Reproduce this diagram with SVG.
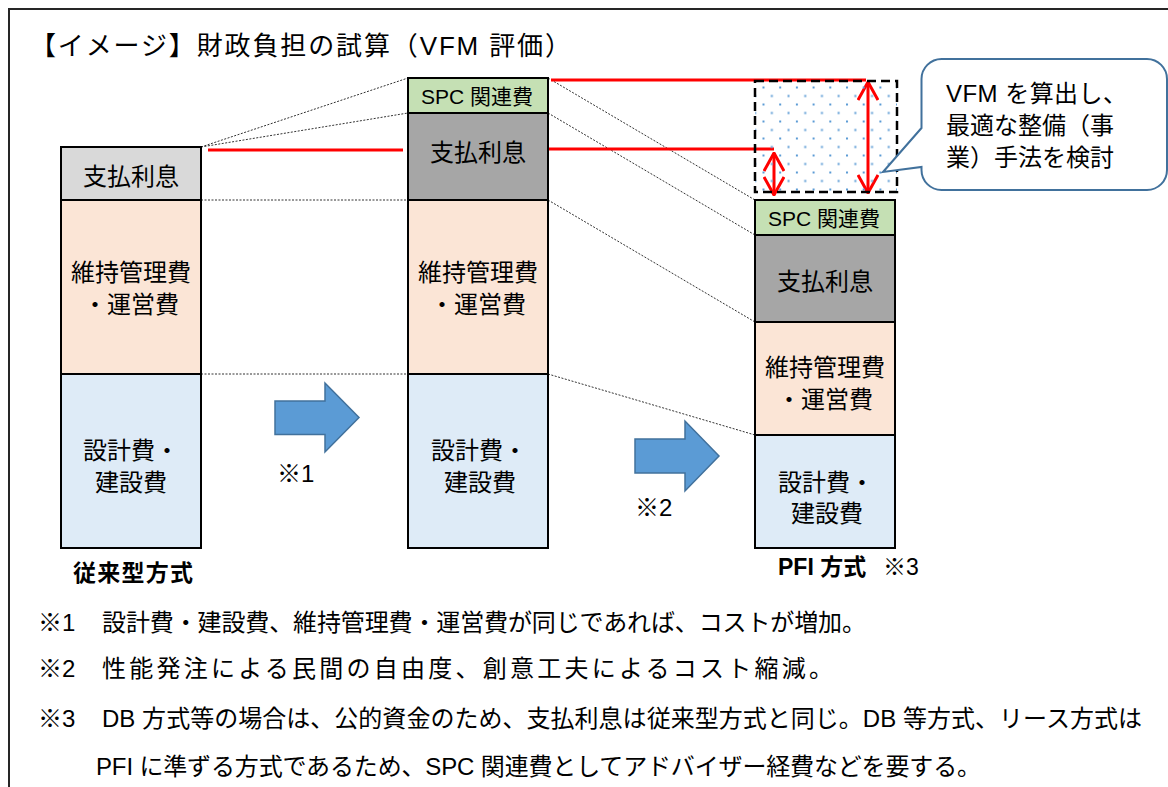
<svg xmlns="http://www.w3.org/2000/svg" width="1168" height="787" viewBox="0 0 1168 787">
<style>
  text { font-family: "Liberation Sans", "Noto Sans CJK JP", sans-serif; fill: #000; }
  .lbl { font-size: 24px; text-anchor: middle; }
  .spc { font-size: 21px; text-anchor: middle; }
  .seg { stroke: #000; stroke-width: 2; }
  .gl { fill: #d9d9d9; }
  .gd { fill: #a6a6a6; }
  .gr { fill: #c5e0b4; }
  .pe { fill: #fbe5d6; }
  .bl { fill: #deebf7; }
  .dot { stroke: #333; stroke-width: 1; stroke-dasharray: 2 1.5; fill: none; }
  .red { stroke: #ff0000; stroke-width: 3; fill: none; }
  .barrow { fill: #5b9bd5; stroke: #41719c; stroke-width: 1.5; }
  .note { font-size: 24px; }
</style>
<defs>
  <marker id="chev" viewBox="0 0 20 22" refX="19" refY="11" markerWidth="20" markerHeight="22" markerUnits="userSpaceOnUse" orient="auto-start-reverse">
    <path d="M1,1 L19,11 L1,21" fill="none" stroke="#ff0000" stroke-width="3"/>
  </marker>
  <pattern id="dots" x="762.5" y="86.5" width="16.7" height="17" patternUnits="userSpaceOnUse">
    <rect x="0" y="0" width="2" height="2" fill="#5b9bd5"/>
    <rect x="8.35" y="8.5" width="2" height="2" fill="#5b9bd5"/>
  </pattern>
</defs>

<rect width="1168" height="787" fill="#fff"/>
<path d="M9,787 V9 H1168" fill="none" stroke="#262626" stroke-width="2"/>

<text id="title" x="30" y="55" font-size="26" textLength="541" lengthAdjust="spacing">【イメージ】財政負担の試算（VFM 評価）</text>

<g id="connectors">
  <line class="dot" x1="201" y1="147" x2="408" y2="78"/>
  <line class="dot" x1="201" y1="147" x2="408" y2="113"/>
  <line class="dot" x1="201" y1="200" x2="408" y2="200"/>
  <line class="dot" x1="201" y1="374" x2="408" y2="374"/>
  <line class="dot" x1="548" y1="78" x2="755" y2="200"/>
  <line class="dot" x1="548" y1="113" x2="755" y2="235"/>
  <line class="dot" x1="548" y1="200" x2="755" y2="322"/>
  <line class="dot" x1="548" y1="374" x2="755" y2="435"/>
  <line class="red" x1="208" y1="150" x2="403" y2="150"/>
  <line class="red" x1="549" y1="149" x2="774" y2="149"/>
  <line class="red" x1="551" y1="80" x2="866" y2="80"/>
  <line class="red" x1="774" y1="153" x2="774" y2="195" marker-start="url(#chev)" marker-end="url(#chev)"/>
  <line class="red" x1="868" y1="82" x2="868" y2="193" marker-start="url(#chev)" marker-end="url(#chev)"/>
</g>

<g id="bar-conventional">
  <rect class="seg gl" x="61" y="147" width="140" height="53"/>
  <rect class="seg pe" x="61" y="200" width="140" height="174"/>
  <rect class="seg bl" x="61" y="374" width="140" height="174"/>
  <text class="lbl" x="131" y="185">支払利息</text>
  <text class="lbl" x="131" y="281">維持管理費</text>
  <text class="lbl" x="131" y="313">・運営費</text>
  <text class="lbl" x="131" y="459">設計費・</text>
  <text class="lbl" x="131" y="491">建設費</text>
  <text x="73" y="581" font-size="23" font-weight="bold" textLength="120" lengthAdjust="spacing">従来型方式</text>
</g>

<g id="bar-middle">
  <rect class="seg gr" x="408" y="78" width="140" height="35"/>
  <rect class="seg gd" x="408" y="113" width="140" height="87"/>
  <rect class="seg pe" x="408" y="200" width="140" height="174"/>
  <rect class="seg bl" x="408" y="374" width="140" height="174"/>
  <text class="spc" x="477" y="104">SPC 関連費</text>
  <text class="lbl" x="478" y="161">支払利息</text>
  <text class="lbl" x="478" y="281">維持管理費</text>
  <text class="lbl" x="478" y="313">・運営費</text>
  <text class="lbl" x="479" y="459">設計費・</text>
  <text class="lbl" x="480" y="491">建設費</text>
</g>

<g id="bar-pfi">
  <rect class="seg gr" x="755" y="200" width="140" height="35"/>
  <rect class="seg gd" x="755" y="235" width="140" height="87"/>
  <rect class="seg pe" x="755" y="322" width="140" height="113"/>
  <rect class="seg bl" x="755" y="435" width="140" height="113"/>
  <text class="spc" x="824" y="226">SPC 関連費</text>
  <text class="lbl" x="825" y="290">支払利息</text>
  <text class="lbl" x="825" y="376">維持管理費</text>
  <text class="lbl" x="825" y="408">・運営費</text>
  <text class="lbl" x="826" y="491">設計費・</text>
  <text class="lbl" x="827" y="522">建設費</text>
  <text x="778" y="575" font-size="23"><tspan font-weight="bold">PFI 方式</tspan><tspan x="883">※3</tspan></text>
</g>

<g id="vfm-box">
  <rect x="755" y="81" width="142" height="111" fill="url(#dots)" stroke="#000" stroke-width="2.5" stroke-dasharray="9 5"/>
</g>

<g id="arrow1">
  <path class="barrow" d="M275,401 H325 V383 L359,417.5 L325,452 V434.5 H275 Z"/>
  <text x="277" y="482" font-size="24">※1</text>
</g>
<g id="arrow2">
  <path class="barrow" d="M635,439 H685 V421 L719,456 L685,491 V473 H635 Z"/>
  <text x="635" y="516" font-size="24">※2</text>
</g>

<g id="callout">
  <path d="M941.5,59 H1147 A20,20 0 0 1 1167,79 V170 A20,20 0 0 1 1147,190 H941.5 A20,20 0 0 1 921.5,170 V167 L883,172 L921.5,128 V79 A20,20 0 0 1 941.5,59 Z" fill="#fff" stroke="#41719c" stroke-width="2"/>
  <text x="946" y="102" font-size="24" textLength="181" lengthAdjust="spacing">VFM を算出し、</text>
  <text x="946" y="134" font-size="24">最適な整備（事</text>
  <text x="946" y="166" font-size="24">業）手法を検討</text>
</g>

<g id="notes">
  <text class="note" x="38" y="631">※1</text>
  <text class="note" x="102" y="631" textLength="764" lengthAdjust="spacing">設計費・建設費、維持管理費・運営費が同じであれば、コストが増加。</text>
  <text class="note" x="38" y="677">※2</text>
  <text class="note" x="102" y="677" textLength="731" lengthAdjust="spacing">性能発注による民間の自由度、創意工夫によるコスト縮減。</text>
  <text class="note" x="38" y="727">※3</text>
  <text class="note" x="102" y="727" textLength="1040" lengthAdjust="spacing">DB 方式等の場合は、公的資金のため、支払利息は従来型方式と同じ。DB 等方式、リース方式は</text>
  <text class="note" x="96" y="775" textLength="885" lengthAdjust="spacing">PFI に準ずる方式であるため、SPC 関連費としてアドバイザー経費などを要する。</text>
</g>
</svg>
